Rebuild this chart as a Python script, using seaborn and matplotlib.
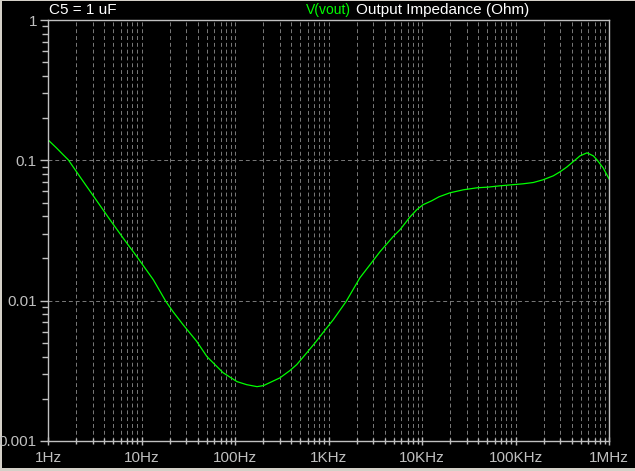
import numpy as np
import pandas as pd
import matplotlib
matplotlib.use('Agg')
import matplotlib.pyplot as plt
import seaborn as sns
from matplotlib.patches import Rectangle
from matplotlib.ticker import LogLocator, NullFormatter, FixedLocator

# =====================
# DATA
# =====================
freq_hz = [1, 1.239, 1.457, 1.649, 2.199, 3.262, 4.604, 6.546, 8.886, 13.37,
           18.28, 21.88, 27.79, 38.94, 50.17, 61.11, 74.40, 88.40, 105.0, 133.4,
           171.9, 200.8, 236.8, 302.9, 387.5, 456.9, 589.0, 717.1, 873.5, 1125,
           1539, 2172, 2779, 3554, 4193, 4896, 5817, 7440, 8777, 10250,
           12700, 15200, 19930, 27650, 38740, 51180, 68290, 120300, 155000, 196800,
           253700, 299200, 352900, 412100, 489700, 581800, 679400, 744200, 869000, 1000000]
z_ohm = [0.1400, 0.1221, 0.1094, 0.1008, 0.0763, 0.0524, 0.0377, 0.0272, 0.02067, 0.01411,
         0.00984, 0.0083, 0.00675, 0.00513, 0.00399, 0.00350, 0.00307, 0.00285, 0.00265, 0.00252,
         0.00244, 0.00248, 0.00261, 0.00282, 0.00318, 0.00350, 0.00427, 0.00500, 0.00592, 0.00732,
         0.00984, 0.01458, 0.01804, 0.02233, 0.02534, 0.02854, 0.03201, 0.0395, 0.04442, 0.04824,
         0.05149, 0.05497, 0.05871, 0.06166, 0.06372, 0.06446, 0.06584, 0.06803, 0.06950, 0.07265,
         0.07756, 0.08282, 0.08945, 0.09757, 0.1076, 0.1131, 0.1076, 0.1008, 0.0880, 0.07384]

x_ticks = [1, 10, 100, 1e3, 1e4, 1e5, 1e6]
x_labels = ['1Hz', '10Hz', '100Hz', '1KHz', '10KHz', '100KHz', '1MHz']
y_ticks = [0.001, 0.01, 0.1, 1]
y_labels = ['0.001', '0.01', '0.1', '1']

df = pd.DataFrame({'freq': freq_hz, 'z': z_ohm})

# =====================
# STYLE
# =====================
W, H = 635, 471
fig = plt.figure(figsize=(W / 100, H / 100), dpi=100, facecolor='#d4d0c8')
plt.rcParams['font.family'] = ['Liberation Sans', 'DejaVu Sans']

# black panel inside the thin grey window border
fig.patches.append(Rectangle((2 / W, 3 / H), 1 - 2 / W, 1 - 4 / H,
                             transform=fig.transFigure, facecolor='black',
                             edgecolor='none', zorder=-10))

ax = fig.add_axes([48 / W, 1 - 441 / H, (609 - 48) / W, (441 - 20) / H])
ax.set_facecolor('black')

sns.lineplot(data=df, x='freq', y='z', color='#00ff00', linewidth=0.9, ax=ax)

ax.set_xscale('log')
ax.set_yscale('log')
ax.set_xlim(1, 1e6)
ax.set_ylim(1e-3, 1)

grid_col = '#7a7a7a'
# vertical grid at every 1..9 per decade, dashed
ax.xaxis.set_major_locator(FixedLocator(x_ticks))
ax.xaxis.set_minor_locator(LogLocator(base=10, subs=np.arange(2, 10), numticks=20))
ax.xaxis.set_minor_formatter(NullFormatter())
ax.set_xticklabels(x_labels)
ax.yaxis.set_major_locator(FixedLocator(y_ticks))
ax.yaxis.set_minor_locator(LogLocator(base=10, subs=np.arange(2, 10), numticks=20))
ax.yaxis.set_minor_formatter(NullFormatter())
ax.set_yticklabels(y_labels)

ax.grid(True, which='both', axis='x', color=grid_col, linestyle=(0, (4, 3)), linewidth=0.7)
ax.grid(True, which='major', axis='y', color=grid_col, linestyle=(0, (4, 3)), linewidth=0.7)

for spine in ax.spines.values():
    spine.set_color('#c0c0c0')
    spine.set_linewidth(1.0)

ax.tick_params(axis='both', which='major', colors='#c0c0c0', labelcolor='#c0c0c0',
               labelsize=11, length=6, width=1)
ax.tick_params(axis='both', which='minor', colors='#c0c0c0', length=4, width=1)
ax.tick_params(axis='x', which='both', direction='inout', pad=4)
ax.tick_params(axis='y', which='both', direction='out', pad=2)

ax.set_xlabel('')
ax.set_ylabel('')

# =====================
# HEADER TEXT
# =====================
fig.text(49 / W, 1 - 10 / H, 'C5 = 1 uF', color='white', fontsize=11, va='center', ha='left')
fig.text(306 / W, 1 - 10 / H, 'V(vout)', color='#00ff00', fontsize=10, va='center', ha='left')
fig.text(356 / W, 1 - 10 / H, 'Output Impedance (Ohm)', color='white', fontsize=11,
         va='center', ha='left')

plt.savefig('out.png', dpi=100, facecolor=fig.get_facecolor())
